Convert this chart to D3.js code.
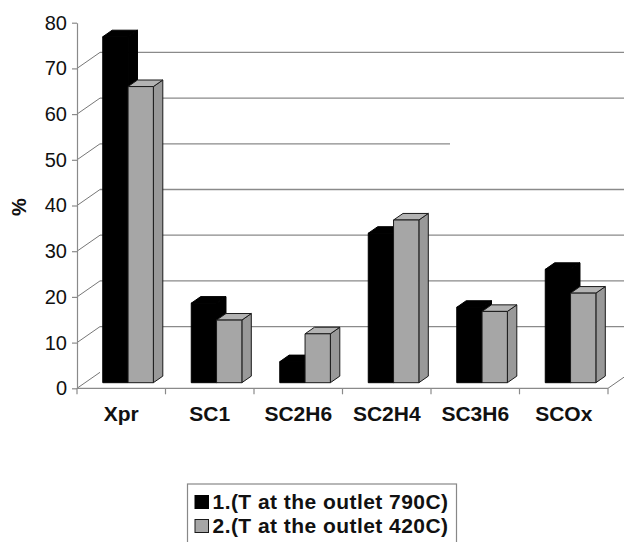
<!DOCTYPE html>
<html>
<head>
<meta charset="utf-8">
<script src="https://cdn.jsdelivr.net/npm/d3@7/dist/d3.min.js"></script>
<style>
  html, body { margin: 0; padding: 0; background: #fff; }
  svg { display: block; font-family: "Liberation Sans", Arial, Helvetica, sans-serif; }
</style>
</head>
<body>
<svg id="chart" width="624" height="542"></svg>
<script>
// Product distribution for the two outlet temperatures
const categories = ["Xpr", "SC1", "SC2H6", "SC2H4", "SC3H6", "SCOx"];
const seriesNames = ["1.(T at the outlet 790C)", "2.(T at the outlet 420C)"];
const outlet790 = [75.7, 17.4, 4.6, 32.7, 16.5, 24.8];
const outlet420 = [64.8, 13.7, 10.7, 35.6, 15.6, 19.6];
const yTicks = [0, 10, 20, 30, 40, 50, 60, 70, 80];
const yLabel = "%";

const seriesValues = [outlet790, outlet420];
const seriesColors = [
  { front: "#000", top: "#000", side: "#000", stroke: "#000" },
  { front: "#a6a6a6", top: "#b3b3b3", side: "#999", stroke: "#1a1a1a" }
];

const svg = d3.select("#chart");

// front plane scales
const x = d3.scaleBand().domain(categories).range([77, 608]).padding(0);
const y = d3.scaleLinear().domain([0, 80]).range([388.3, 22.7]);
const xs = d3.scaleBand().domain(d3.range(seriesNames.length))
  .range([x.bandwidth() * 0.2, x.bandwidth() * 0.772]).padding(0);

// oblique depth projection: t = 0 front plane, t = 1 back wall
const depth = { dx: 23, dy: -16 };
const proj = (px, py, t) => [px + depth.dx * t, py + depth.dy * t];
const barFront = 0.35, barBack = 0.76;

const gridColor = "#8a8a8a";

// back-wall gridlines
const gGrid = svg.append("g");
yTicks.filter(v => v > 0 && v < 80).forEach(v => {
  const [x1, y1] = proj(x.range()[0], y(v), 1);
  let [x2] = proj(x.range()[1], y(v), 1);
  if (v === 50) x2 = x(categories[4]) + depth.dx - 4;
  gGrid.append("line")
    .attr("x1", x1).attr("y1", y1).attr("x2", x2).attr("y2", y1)
    .attr("stroke", gridColor).attr("stroke-width", 1.3);
});

// side-wall diagonals joining the axis ticks to the back wall
yTicks.filter(v => v < 80).forEach(v => {
  const [x2, y2] = proj(x.range()[0], y(v), 1);
  gGrid.append("line")
    .attr("x1", x.range()[0]).attr("y1", y(v)).attr("x2", x2).attr("y2", y2)
    .attr("stroke", "#777").attr("stroke-width", 1);
});

// floor: right edge
{
  const [x2, y2] = proj(x.range()[1], y(0), 1);
  gGrid.append("line")
    .attr("x1", x.range()[1]).attr("y1", y(0)).attr("x2", x2).attr("y2", y2)
    .attr("stroke", "#777").attr("stroke-width", 1);
}

// bars, drawn as three visible faces
const gBars = svg.append("g");
categories.forEach((c, ci) => {
  seriesValues.forEach((vals, si) => {
    const v = vals[ci];
    const col = seriesColors[si];
    const xl = x(c) + xs(si), xr = xl + xs.bandwidth();
    const y0 = y(0), yv = y(v);
    const [fl, fb] = proj(xl, y0, barFront);
    const [fr] = proj(xr, y0, barFront);
    const [, ft] = proj(xl, yv, barFront);
    const [bl, bb] = proj(xl, y0, barBack);
    const [br] = proj(xr, y0, barBack);
    const [, bt] = proj(xl, yv, barBack);
    const line = d3.line();
    const g = gBars.append("g")
      .attr("stroke", col.stroke).attr("stroke-width", 1).attr("stroke-linejoin", "round");
    g.append("path").attr("fill", col.side)
      .attr("d", line([[fr, fb], [fr, ft], [br, bt], [br, bb]]) + "Z");
    g.append("path").attr("fill", col.top)
      .attr("d", line([[fl, ft], [bl, bt], [br, bt], [fr, ft]]) + "Z");
    g.append("rect").attr("fill", col.front)
      .attr("x", fl).attr("y", ft).attr("width", fr - fl).attr("height", fb - ft);
  });
});

// value axis
const yAxis = svg.append("g")
  .attr("transform", `translate(${x.range()[0]},0)`)
  .call(d3.axisLeft(y).tickValues(yTicks).tickSize(5).tickSizeOuter(0).tickPadding(5));
yAxis.select(".domain").attr("stroke", gridColor).attr("stroke-width", 1.2);
yAxis.selectAll(".tick line").attr("stroke", gridColor).attr("stroke-width", 1.2);
yAxis.selectAll(".tick text")
  .attr("font-size", 20).attr("fill", "#111")
  .attr("font-family", "'Liberation Sans', Arial, sans-serif");

// category axis: front floor edge with ticks at band boundaries
const xAxis = svg.append("g").attr("transform", `translate(0,${y(0)})`);
xAxis.append("line")
  .attr("x1", x.range()[0]).attr("x2", x.range()[1])
  .attr("stroke", gridColor).attr("stroke-width", 1.2);
categories.concat([null]).forEach((c, i) => {
  const px = i < categories.length ? x(c) : x.range()[1];
  xAxis.append("line").attr("x1", px).attr("x2", px).attr("y1", 0).attr("y2", 6)
    .attr("stroke", gridColor).attr("stroke-width", 1.2);
});
xAxis.selectAll("text.cat").data(categories).join("text")
  .attr("class", "cat")
  .attr("x", d => x(d) + x.bandwidth() / 2)
  .attr("y", 32.5)
  .attr("text-anchor", "middle")
  .attr("font-size", 21).attr("font-weight", "bold").attr("fill", "#111")
  .text(d => d);

// axis title
svg.append("text")
  .attr("transform", "translate(26,207) rotate(-90)")
  .attr("text-anchor", "middle")
  .attr("font-size", 20).attr("font-weight", "bold").attr("fill", "#111")
  .text(yLabel);

// legend
const legend = svg.append("g");
legend.append("rect")
  .attr("x", 187.5).attr("y", 484).attr("width", 269).attr("height", 64)
  .attr("fill", "#fff").attr("stroke", "#888").attr("stroke-width", 1.2);
seriesNames.forEach((name, i) => {
  const row = legend.append("g").attr("transform", `translate(0,${i * 24})`);
  row.append("rect")
    .attr("x", 195).attr("y", 495.5).attr("width", 13.5).attr("height", 13)
    .attr("fill", seriesColors[i].front).attr("stroke", seriesColors[i].stroke).attr("stroke-width", 1);
  row.append("text")
    .attr("x", 212.5).attr("y", 509)
    .attr("font-size", 21).attr("letter-spacing", 0.45)
    .attr("font-weight", "bold").attr("fill", "#111")
    .text(name);
});
</script>
</body>
</html>
